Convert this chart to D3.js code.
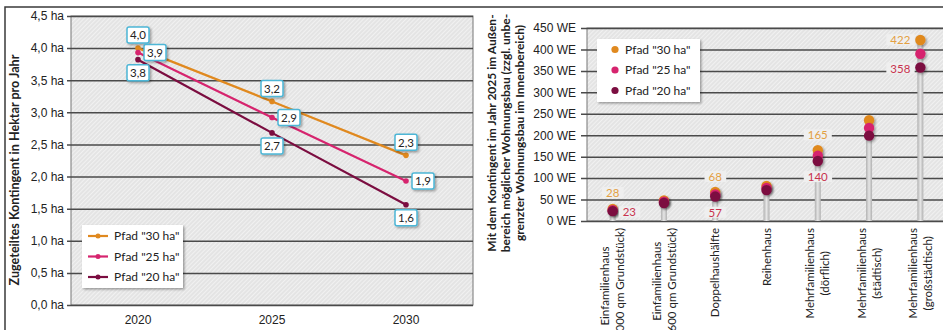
<!DOCTYPE html>
<html>
<head>
<meta charset="utf-8">
<script src="https://cdn.jsdelivr.net/npm/d3@7"></script>
<style>
  body { margin: 0; background: #fff; }
  svg { display: block; font-family: Lato, "Noto Sans", sans-serif; }
</style>
</head>
<body>
<div id="chart"></div>
<script>
// left chart: Kontingent in ha
var years = ["2020", "2025", "2030"]
var pfad30 = [4.0, 3.17, 2.33]
var pfad25 = [3.93, 2.92, 1.93]
var pfad20 = [3.82, 2.68, 1.56]
var seriesNames = ['Pfad "30 ha"', 'Pfad "25 ha"', 'Pfad "20 ha"']
var haTicks = [0, 0.5, 1.0, 1.5, 2.0, 2.5, 3.0, 3.5, 4.0, 4.5]

// right chart: Wohneinheiten 2025
var typen = [
  ["Einfamilienhaus", "(1.000 qm Grundstück)"],
  ["Einfamilienhaus", "(600 qm Grundstück)"],
  ["Doppelhaushälfte"],
  ["Reihenhaus"],
  ["Mehrfamilienhaus", "(dörflich)"],
  ["Mehrfamilienhaus", "(städtisch)"],
  ["Mehrfamilienhaus", "(großstädtisch)"]
]
var we30 = [28, 48, 68, 82, 165, 235, 422]
var we25 = [25, 45, 62, 77, 152, 217, 390]
var we20 = [23, 42, 57, 72, 140, 199, 358]
var weTicks = [0, 50, 100, 150, 200, 250, 300, 350, 400, 450]
var weLabeled = [0, 2, 4, 6]

var colors = ["#E0891F", "#D6246E", "#7B0D40"]
var labelColors = ["#E3A043", "#C8324E"]

var W = 943, H = 330
var svg = d3.select("#chart").append("svg").attr("width", W).attr("height", H)
var defs = svg.append("defs")

var pat = defs.append("pattern").attr("id", "hatch").attr("patternUnits", "userSpaceOnUse")
  .attr("width", 3).attr("height", 3).attr("patternTransform", "rotate(45)")
pat.append("rect").attr("width", 3).attr("height", 3).attr("fill", "#e4e4e4")
pat.append("rect").attr("width", 1).attr("height", 3).attr("fill", "#f1f1f1")

var shadow = defs.append("filter").attr("id", "shadow").attr("x", "-50%").attr("y", "-50%").attr("width", "200%").attr("height", "200%")
shadow.append("feDropShadow").attr("dx", 1.5).attr("dy", 1.5).attr("stdDeviation", 1.2)
  .attr("flood-color", "#000").attr("flood-opacity", 0.35)

var grad = defs.append("linearGradient").attr("id", "stem").attr("x1", "0%").attr("x2", "100%")
grad.append("stop").attr("offset", "0%").attr("stop-color", "#b0b0b0")
grad.append("stop").attr("offset", "50%").attr("stop-color", "#e6e6e6")
grad.append("stop").attr("offset", "100%").attr("stop-color", "#b0b0b0")

// outer frame
svg.append("path").attr("d", "M5,330 V7 H943").attr("fill", "none").attr("stroke", "#3a3a3a").attr("stroke-width", 1.5)

// ---------- left chart ----------
var L = { left: 71, right: 473, top: 16, bottom: 305 }
var x1 = d3.scaleBand().domain(years).range([L.left, L.right])
var y1 = d3.scaleLinear().domain([0, 4.5]).range([L.bottom, L.top])
var fmt1 = function(v){ return d3.format(".1f")(v).replace(".", ",") }

var g1 = svg.append("g")
g1.append("rect").attr("x", L.left).attr("y", L.top).attr("width", L.right - L.left).attr("height", L.bottom - L.top)
  .attr("fill", "url(#hatch)").attr("stroke", "#777").attr("stroke-width", 1)

var yAxis1 = d3.axisLeft(y1).tickValues(haTicks).tickSize(-(L.right - L.left) - 4)
  .tickFormat(function(d){ return fmt1(d) + " ha" })
g1.append("g").attr("transform", "translate(" + (L.left - 4) + ",0)").call(yAxis1)
  .call(function(g){
    g.select(".domain").remove()
    g.selectAll(".tick line").attr("stroke", "#4a4a4a").attr("stroke-width", 1.5).attr("x1", 0)
    g.selectAll(".tick text").attr("x", -3).attr("font-size", 12).attr("fill", "#222")
  })

g1.append("g").attr("transform", "translate(0," + L.bottom + ")")
  .call(d3.axisBottom(x1).tickSize(0).tickPadding(10))
  .call(function(g){
    g.select(".domain").remove()
    g.selectAll("text").attr("font-size", 12).attr("fill", "#222")
  })

g1.append("text").attr("transform", "translate(19,170) rotate(-90)").attr("text-anchor", "middle")
  .attr("font-size", 12.6).attr("font-weight", "bold").attr("fill", "#222")
  .text("Zugeteiltes Kontingent in Hektar pro Jahr")

var series1 = [pfad30, pfad25, pfad20]
var line1 = d3.line().x(function(d, i){ return x1(years[i]) + x1.bandwidth() / 2 }).y(function(d){ return y1(d) })

series1.forEach(function(s, k){
  g1.append("path").datum(s).attr("d", line1).attr("fill", "none")
    .attr("stroke", colors[k]).attr("stroke-width", 2.2)
  g1.selectAll(".pt" + k).data(s).enter().append("circle")
    .attr("cx", function(d, i){ return x1(years[i]) + x1.bandwidth() / 2 })
    .attr("cy", function(d){ return y1(d) })
    .attr("r", 2.8).attr("fill", colors[k])
})

// data labels (30 above, 25 right, 20 below)
var offs1 = [[0, -13], [17, 0], [0, 13]]
series1.forEach(function(s, k){
  s.forEach(function(v, i){
    var cx = x1(years[i]) + x1.bandwidth() / 2 + offs1[k][0]
    var cy = y1(v) + offs1[k][1]
    var lg = g1.append("g").attr("transform", "translate(" + cx + "," + cy + ")")
    lg.append("rect").attr("x", -11).attr("y", -8).attr("width", 22).attr("height", 16).attr("rx", 2)
      .attr("fill", "#fff").attr("stroke", "#4DB6D6").attr("stroke-width", 1.5).attr("filter", "url(#shadow)")
    lg.append("text").attr("text-anchor", "middle").attr("dy", "0.36em")
      .attr("font-size", 11.5).attr("fill", "#222").text(fmt1(v))
  })
})

// legend left
var leg1 = g1.append("g").attr("transform", "translate(82,225)")
leg1.append("rect").attr("width", 101).attr("height", 63).attr("fill", "#fff").attr("filter", "url(#shadow)")
seriesNames.forEach(function(n, k){
  var yy = 11 + k * 20.5
  leg1.append("line").attr("x1", 6).attr("x2", 26).attr("y1", yy).attr("y2", yy)
    .attr("stroke", colors[k]).attr("stroke-width", 2.2)
  leg1.append("circle").attr("cx", 16).attr("cy", yy).attr("r", 2.5).attr("fill", colors[k])
  leg1.append("text").attr("x", 32).attr("y", yy).attr("dy", "0.36em")
    .attr("font-size", 12).attr("fill", "#222").text(n)
})

// ---------- right chart ----------
var R = { left: 587, right: 946, top: 28, bottom: 221 }
var x2 = d3.scaleBand().domain(d3.range(typen.length)).range([R.left, R.right])
var y2 = d3.scaleLinear().domain([0, 450]).range([R.bottom, R.top])
var g2 = svg.append("g")

g2.append("rect").attr("x", R.left).attr("y", R.top).attr("width", R.right - R.left).attr("height", R.bottom - R.top)
  .attr("fill", "url(#hatch)").attr("stroke", "#777").attr("stroke-width", 1)

g2.append("g").attr("transform", "translate(" + R.left + ",0)")
  .call(d3.axisLeft(y2).tickValues(weTicks).tickSize(-(R.right - R.left)).tickFormat(function(d){ return d + " WE" }))
  .call(function(g){
    g.select(".domain").remove()
    g.selectAll(".tick line").attr("stroke", "#4a4a4a").attr("stroke-width", 1.5).attr("x1", -6)
    g.selectAll(".tick text").attr("x", -11).attr("font-size", 12).attr("fill", "#222")
  })

var titleLines = ["Mit dem Kontingent im Jahr 2025 im Außen-", "bereich möglicher Wohnungsbau (zzgl. unbe-", "grenzter Wohnungsbau im Innenbereich)"]
titleLines.forEach(function(t, i){
  g2.append("text").attr("transform", "translate(" + (496 + i * 14) + ",133) rotate(-90)")
    .attr("text-anchor", "middle").attr("font-size", 12).attr("font-weight", "bold").attr("fill", "#222").text(t)
})

var cx2 = function(i){ return x2(i) + x2.bandwidth() / 2 }
var maxes = we30.map(function(d, i){ return Math.max(d, we25[i], we20[i]) })

g2.selectAll(".stem").data(maxes).enter().append("rect")
  .attr("x", function(d, i){ return cx2(i) - 3 }).attr("width", 6)
  .attr("y", function(d){ return y2(d) }).attr("height", function(d){ return R.bottom - y2(d) })
  .attr("fill", "url(#stem)")

// x labels rotated
typen.forEach(function(lines, i){
  var t = g2.append("text").attr("font-size", 11.5).attr("fill", "#222").attr("text-anchor", "middle")
  lines.forEach(function(l, j){
    t.append("tspan").attr("x", 0).attr("y", (j - (lines.length - 1) / 2) * 15).attr("dy", "0.36em").text(l)
  })
  var len = 0
  t.selectAll("tspan").each(function(){ len = Math.max(len, this.getComputedTextLength()) })
  t.attr("transform", "translate(" + cx2(i) + "," + (R.bottom + 7 + len / 2) + ") rotate(-90)")
})

// dots
var series2 = [we30, we25, we20]
series2.forEach(function(s, k){
  g2.selectAll(".dot" + k).data(s).enter().append("circle")
    .attr("cx", function(d, i){ return cx2(i) }).attr("cy", function(d){ return y2(d) })
    .attr("r", 5.2).attr("fill", colors[k]).attr("filter", "url(#shadow)")
})

// value labels
var addLabel = function(txt, x, y, col, anchor){
  var lg = g2.append("g")
  var tx = lg.append("text").attr("x", x).attr("y", y).attr("dy", "0.36em").attr("text-anchor", anchor)
    .attr("font-size", 11.5).attr("fill", col).text(txt)
  var bb = tx.node().getBBox()
  lg.insert("rect", "text").attr("x", bb.x - 4).attr("y", bb.y + 1).attr("width", bb.width + 8).attr("height", bb.height - 2)
    .attr("fill", "#efefef")
}
weLabeled.forEach(function(i){
  var top = we30[i], bot = we20[i]
  if (i === 0) {
    addLabel(top, cx2(i), y2(top) - 16, labelColors[0], "middle")
    addLabel(bot, cx2(i) + 10, y2(bot) + 1, labelColors[1], "start")
  } else if (i === typen.length - 1) {
    addLabel(top, cx2(i) - 10, y2(top), labelColors[0], "end")
    addLabel(bot, cx2(i) - 10, y2(bot) + 1, labelColors[1], "end")
  } else {
    addLabel(top, cx2(i), y2(top) - 15, labelColors[0], "middle")
    addLabel(bot, cx2(i), y2(bot) + 16, labelColors[1], "middle")
  }
})

// legend right
var leg2 = g2.append("g").attr("transform", "translate(597,39)")
leg2.append("rect").attr("width", 103).attr("height", 63).attr("fill", "#fff").attr("filter", "url(#shadow)")
seriesNames.forEach(function(n, k){
  var yy = 10.5 + k * 20.5
  leg2.append("circle").attr("cx", 18).attr("cy", yy).attr("r", 3.6).attr("fill", colors[k])
  leg2.append("text").attr("x", 28).attr("y", yy).attr("dy", "0.36em")
    .attr("font-size", 12).attr("fill", "#222").text(n)
})
</script>
</body>
</html>
